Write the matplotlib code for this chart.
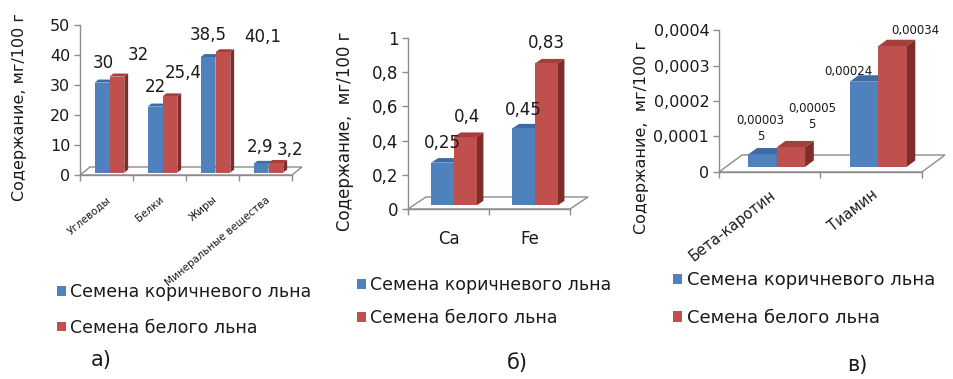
import numpy as np
import matplotlib
matplotlib.use("Agg")
import matplotlib.pyplot as plt
from matplotlib.patches import Polygon, Patch

# ---- data -------------------------------------------------------------
series_names = ["Семена коричневого льна", "Семена белого льна"]

macro_categories = ["Углеводы", "Белки", "Жиры", "Минеральные вещества"]
macro_brown = [30, 22, 38.5, 2.9]
macro_white = [32, 25.4, 40.1, 3.2]
macro_ticks = [0, 10, 20, 30, 40, 50]
macro_ticklabels = ["0", "10", "20", "30", "40", "50"]

mineral_categories = ["Ca", "Fe"]
mineral_brown = [0.25, 0.45]
mineral_white = [0.4, 0.83]
mineral_ticks = [0, 0.2, 0.4, 0.6, 0.8, 1.0]
mineral_ticklabels = ["0", "0,2", "0,4", "0,6", "0,8", "1"]

vitamin_categories = ["Бета-каротин", "Тиамин"]
vitamin_brown = [0.000035, 0.00024]
vitamin_white = [0.000055, 0.00034]
vitamin_ticks = [0, 0.0001, 0.0002, 0.0003, 0.0004]
vitamin_ticklabels = ["0", "0,0001", "0,0002", "0,0003", "0,0004"]

ylabels = ["Содержание, мг/100 г", "Содержание,  мг/100 г", "Содержание,  мг/100 г"]
captions = ["а)", "б)", "в)"]

# ---- style ------------------------------------------------------------
plt.rcParams["font.family"] = ["DejaVu Sans"]
W_PX, H_PX = 954, 379
BLUE = dict(front="#4F81BD", top="#3D6BA6", side="#2E5283")
RED = dict(front="#C0504D", top="#A63F3C", side="#7E2D2B")
AXIS_GREY = "#8C8C8C"
TEXT = "#1A1A1A"
BAR_W = 0.28          # width of one bar, category units
F0, F1 = 0.30, 0.68   # bar front / back as fraction of floor depth

fig = plt.figure(figsize=(W_PX / 100, H_PX / 100), dpi=100)


def fmt(v, wrap=None):
    s = np.format_float_positional(v, trim="-").replace(".", ",")
    if wrap and len(s) > wrap:
        s = s[:wrap] + "\n" + s[wrap:]
    return s


def rect_px(left, top, right, bottom):
    return [left / W_PX, 1 - bottom / H_PX, (right - left) / W_PX, (bottom - top) / H_PX]


def panel(box, cats, s1, s2, ticks, ticklabels, depth_px, tick_fs, val_fs,
          cat_fs, cat_rot, cat_pad, offsets, wrap=None):
    ax = fig.add_axes(rect_px(*box))
    n = len(cats)
    ymax = ticks[-1]
    ax.set_xlim(-0.5, n - 0.5)
    ax.set_ylim(0, ymax)
    w_px = box[2] - box[0]
    h_px = box[3] - box[1]
    ddx = depth_px[0] / (w_px / n)
    ddy = depth_px[1] / (h_px / ymax)

    # floor
    floor = Polygon([(-0.5, 0), (n - 0.5, 0), (n - 0.5 + ddx, ddy), (-0.5 + ddx, ddy)],
                    closed=True, facecolor="white", edgecolor=AXIS_GREY, lw=1.0,
                    zorder=1, clip_on=False)
    ax.add_patch(floor)

    k = 0
    for i in range(n):
        for j, (vals, col) in enumerate([(s1, BLUE), (s2, RED)]):
            v = vals[i]
            xl = i - BAR_W + j * BAR_W + F0 * ddx
            yb = F0 * ddy
            yt = yb + v
            dx = (F1 - F0) * ddx
            dy = (F1 - F0) * ddy
            z = 3 + 2 * k
            ax.bar(xl, v, BAR_W, bottom=yb, align="edge", color=col["front"],
                   linewidth=0, zorder=z + 1, clip_on=False)
            ax.add_patch(Polygon([(xl, yt), (xl + BAR_W, yt), (xl + BAR_W + dx, yt + dy),
                                  (xl + dx, yt + dy)], closed=True, facecolor=col["top"],
                                 lw=0, zorder=z, clip_on=False))
            ax.add_patch(Polygon([(xl + BAR_W, yb), (xl + BAR_W, yt),
                                  (xl + BAR_W + dx, yt + dy), (xl + BAR_W + dx, yb + dy)],
                                 closed=True, facecolor=col["side"], lw=0, zorder=z,
                                 clip_on=False))
            ox, oy = offsets[k]
            ax.annotate(fmt(v, wrap), xy=(xl + BAR_W / 2, yt),
                        xytext=(ox * 0.72, -oy * 0.72), textcoords="offset points",
                        ha="center", va="center", fontsize=val_fs, color=TEXT,
                        linespacing=1.3, zorder=30, annotation_clip=False)
            k += 1

    for side in ("top", "right"):
        ax.spines[side].set_visible(False)
    for side in ("left", "bottom"):
        ax.spines[side].set_color(AXIS_GREY)
        ax.spines[side].set_linewidth(1.0)
    ax.spines["bottom"].set_zorder(2)
    ax.patch.set_alpha(0)

    ax.set_yticks(ticks)
    ax.set_yticklabels(ticklabels)
    ax.tick_params(axis="y", length=4, width=1, color=AXIS_GREY, labelsize=tick_fs,
                   labelcolor=TEXT, pad=3)

    ax.set_xticks(range(n))
    if cat_rot:
        ax.set_xticklabels(cats, rotation=cat_rot, ha="right", va="top",
                           rotation_mode="anchor")
    else:
        ax.set_xticklabels(cats)
    ax.tick_params(axis="x", which="major", length=0, labelsize=cat_fs,
                   labelcolor=TEXT, pad=cat_pad)
    ax.set_xticks(np.arange(-0.5, n), minor=True)
    ax.tick_params(axis="x", which="minor", length=4, width=1, color=AXIS_GREY)
    return ax


# а) macronutrients
panel((80, 25, 292, 175), macro_categories, macro_brown, macro_white,
      macro_ticks, macro_ticklabels, depth_px=(10, 8), tick_fs=11.5, val_fs=12,
      cat_fs=7.5, cat_rot=40, cat_pad=14,
      offsets=[(1, -20), (21, -22), (0, -20), (13, -23),
               (0, -22), (40, -15), (-1, -17), (14, -13)])

# б) minerals
panel((408, 38, 570, 209), mineral_categories, mineral_brown, mineral_white,
      mineral_ticks, mineral_ticklabels, depth_px=(18, 12), tick_fs=12, val_fs=12,
      cat_fs=12, cat_rot=0, cat_pad=15,
      offsets=[(0, -20), (2, -20), (0, -18), (0, -20)])

# в) vitamins
panel((719, 30, 922, 172), vitamin_categories, vitamin_brown, vitamin_white,
      vitamin_ticks, vitamin_ticklabels, depth_px=(23, 17), tick_fs=11.5, val_fs=8.5,
      cat_fs=10.5, cat_rot=38, cat_pad=11,
      offsets=[(-2, -26), (21, -31), (-16, -10), (23, -16)], wrap=7)

# axis titles
for (x, y), txt, fs in zip([(20, 107), (345, 131), (642, 137)], ylabels, [11.5, 12, 11.5]):
    fig.text(x / W_PX, 1 - y / H_PX, txt, rotation=90, ha="center", va="center",
             fontsize=fs, color=TEXT)

# legends
handles = [Patch(facecolor=BLUE["front"]), Patch(facecolor=RED["front"])]
for (x, y), fs, sp in zip([(57, 310), (357, 301.5), (673, 299)], [12.5, 12.5, 13],
                          [1.0, 0.85, 1.1]):
    fig.legend(handles, series_names, loc="center left",
               bbox_to_anchor=(x / W_PX, 1 - y / H_PX), frameon=False, fontsize=fs,
               handlelength=0.5, handleheight=0.5, handletextpad=0.25,
               labelspacing=sp, borderpad=0, borderaxespad=0, labelcolor=TEXT)

# panel captions
for (x, y), txt in zip([(101, 360), (517, 363), (857, 365)], captions):
    fig.text(x / W_PX, 1 - y / H_PX, txt, ha="center", va="center", fontsize=15,
             color=TEXT)

fig.savefig("out.png", dpi=100)
